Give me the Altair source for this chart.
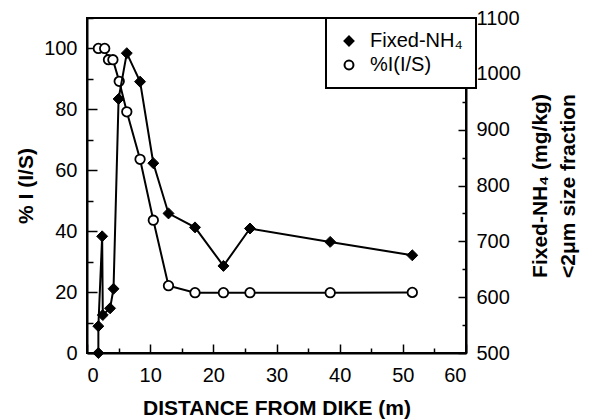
import altair as alt
import pandas as pd

# ---- data ----
nh4_dist = [1.8, 1.8, 2.4, 2.5, 3.65, 4.2, 5.0, 6.3, 8.4, 10.5, 12.9, 17.1, 21.6, 25.8, 38.5, 51.5]
nh4_vals = [500, 548, 709, 568, 580, 615, 955, 1037, 986, 840, 750, 725, 656, 723, 699, 675]

is_dist = [1.8, 2.8, 3.4, 4.1, 5.1, 6.3, 8.4, 10.5, 12.9, 17.1, 21.6, 25.8, 38.5, 51.5]
is_vals = [100, 100, 96.3, 96.3, 89.2, 79.2, 63.6, 43.6, 22.1, 19.8, 19.8, 19.8, 19.8, 19.9]

x_ticks = list(range(0, 61, 5))
left_ticks = list(range(0, 111, 10))
right_ticks = list(range(500, 1101, 50))

S_NH4 = "Fixed-NH₄"
S_IS = "%I(I/S)"
series_names = [S_NH4, S_IS]

nh4_df = pd.DataFrame({"dist": nh4_dist, "val": nh4_vals,
                       "ord": list(range(len(nh4_dist))), "series": S_NH4})
is_df = pd.DataFrame({"dist": is_dist, "val": is_vals,
                      "ord": list(range(len(is_dist))), "series": S_IS})

FONT = "Liberation Sans"

legend_def = alt.Legend(
    title=None, orient="none", legendX=239, legendY=0,
    symbolStrokeColor="black", symbolStrokeWidth=2,
)
shape_enc = alt.Shape("series:N", scale=alt.Scale(domain=series_names, range=["diamond", "circle"]),
                      legend=legend_def)
fill_enc = alt.Fill("series:N", scale=alt.Scale(domain=series_names, range=["black", "white"]),
                    legend=legend_def)
stroke_enc = alt.Stroke("series:N", scale=alt.Scale(domain=series_names, range=["black", "black"]),
                        legend=legend_def)

x_enc = alt.X("dist:Q",
              scale=alt.Scale(domain=[0, 60], nice=False, zero=False),
              axis=alt.Axis(values=x_ticks, title="DISTANCE FROM DIKE (m)",
                            labelExpr="datum.value % 10 === 0 ? datum.label : ''",
                            tickSize={"condition": {"test": "datum.value % 10 === 0", "value": -9}, "value": -5},
                            labelPadding=21, titlePadding=12))

yl = alt.Y("val:Q",
           scale=alt.Scale(domain=[0, 110], nice=False, zero=False),
           axis=alt.Axis(orient="left", values=left_ticks, title="% I (I/S)",
                         labelExpr="datum.value % 20 === 0 && datum.value <= 100 ? datum.label : ''",
                         tickSize={"condition": {"test": "datum.value % 20 === 0", "value": -10}, "value": -6},
                         labelPadding=20, titlePadding=7))

yr = alt.Y("val:Q",
           scale=alt.Scale(domain=[500, 1100], nice=False, zero=False),
           axis=alt.Axis(orient="right", values=right_ticks, format="d",
                         title=["Fixed-NH₄ (mg/kg)", "<2μm size fraction"],
                         labelExpr="datum.value % 100 === 0 ? datum.label : ''",
                         tickSize={"condition": {"test": "datum.value % 100 === 0", "value": -8}, "value": -4},
                         labelPadding=18, titleAngle=270, titlePadding=2, titleLineHeight=28))

is_line = alt.Chart(is_df).mark_line(color="black", strokeWidth=2).encode(
    x=x_enc, y=yl, order="ord:Q")
is_pts = alt.Chart(is_df).mark_point(filled=True, size=90, strokeWidth=1.8, opacity=1).encode(
    x=x_enc, y=yl, shape=shape_enc, fill=fill_enc, stroke=stroke_enc)

nh4_line = alt.Chart(nh4_df).mark_line(color="black", strokeWidth=2).encode(
    x=x_enc, y=yr, order="ord:Q")
nh4_pts = alt.Chart(nh4_df).mark_point(filled=True, size=120, strokeWidth=1, opacity=1).encode(
    x=x_enc, y=yr, shape=shape_enc, fill=fill_enc, stroke=stroke_enc)

left = alt.layer(is_line, is_pts)
right = alt.layer(nh4_line, nh4_pts)

chart = alt.layer(left, right).resolve_scale(y="independent").properties(
    width=379, height=335,
    autosize=alt.AutoSizeParams(type="none"),
    padding={"left": 87, "top": 18, "right": 127, "bottom": 67},
    background="white",
).configure_view(
    stroke="black", strokeWidth=2
).configure_axis(
    grid=False, domainColor="black", domainWidth=2, tickColor="black", tickWidth=1.5,
    labelFont=FONT, labelFontSize=20, labelColor="black",
    titleFont=FONT, titleFontSize=21, titleFontWeight="bold", titleColor="black",
).configure_legend(
    labelFont=FONT, labelFontSize=20, labelColor="black",
    strokeColor="black", strokeWidth=2, fillColor="white",
    padding=13, rowPadding=4, symbolSize=80,
    labelOffset=11, cornerRadius=0,
)

chart.save("out.html", embed_options={"renderer": "svg", "actions": False})
